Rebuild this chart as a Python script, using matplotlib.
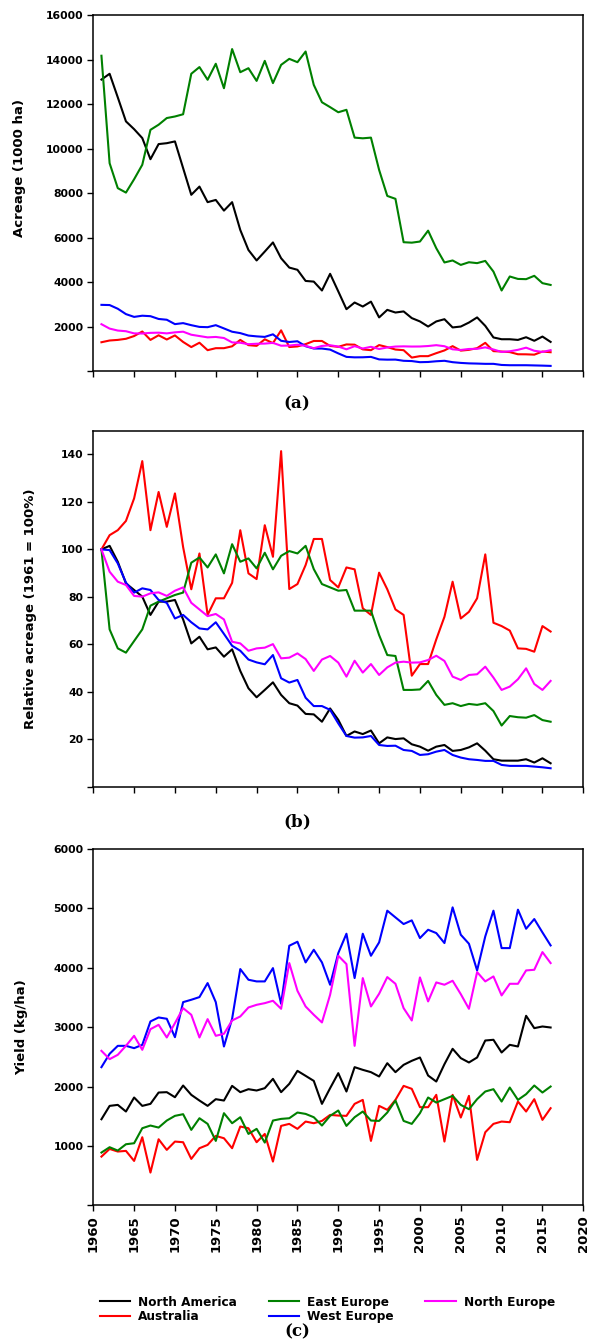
import matplotlib.pyplot as plt

# years 1961-2016
years = list(range(1961, 2017))

# (a) acreage, 1000 ha
na_acre = [13100, 13360, 12300, 11220, 10870, 10470, 9520, 10200, 10240, 10320,
           9120, 7920, 8290, 7590, 7690, 7210, 7590, 6340, 5440, 4970,
           5370, 5780, 5070, 4650, 4550, 4050, 4020, 3620, 4370, 3580,
           2780, 3080, 2900, 3120, 2410, 2750, 2630, 2680, 2380, 2230,
           2000, 2230, 2330, 1960, 2000, 2180, 2410, 2030, 1510, 1430,
           1430, 1400, 1520, 1360, 1550, 1310]
au_acre = [1295, 1373, 1400, 1450, 1573, 1777, 1400, 1608, 1418, 1601,
           1308, 1077, 1273, 938, 1028, 1028, 1112, 1400, 1164, 1133,
           1427, 1255, 1831, 1079, 1106, 1210, 1352, 1352, 1128, 1088,
           1197, 1186, 974, 938, 1168, 1077, 967, 938, 606, 670,
           670, 804, 927, 1119, 918, 954, 1028, 1268, 895, 877,
           852, 755, 752, 737, 877, 847]
ee_acre = [14170, 9340, 8220, 8020, 8620, 9270, 10840, 11070, 11370, 11440,
           11540, 13360, 13660, 13090, 13810, 12710, 14470, 13430, 13610, 13040,
           13940, 12940, 13760, 14030, 13880, 14360, 12860, 12080, 11860, 11630,
           11740, 10490, 10460, 10490, 9040, 7870, 7740, 5790, 5770, 5820,
           6310, 5520, 4880, 4970, 4770, 4890, 4850, 4950, 4470, 3620,
           4250, 4140, 4130, 4280, 3950, 3870]
we_acre = [2975, 2966, 2800, 2559, 2434, 2487, 2466, 2341, 2306, 2109,
           2154, 2062, 1984, 1972, 2062, 1916, 1767, 1705, 1595, 1559,
           1535, 1651, 1360, 1306, 1339, 1116, 1012, 1012, 964, 794,
           637, 616, 619, 637, 524, 512, 515, 461, 449, 399,
           408, 440, 461, 399, 366, 345, 336, 324, 324, 274,
           262, 262, 262, 253, 244, 232]
ne_acre = [2106, 1908, 1820, 1790, 1693, 1687, 1716, 1725, 1693, 1740,
           1769, 1632, 1573, 1514, 1533, 1485, 1287, 1272, 1207, 1228,
           1234, 1266, 1139, 1146, 1184, 1133, 1028, 1129, 1160, 1101,
           977, 1118, 1013, 1089, 992, 1059, 1101, 1110, 1101, 1104,
           1125, 1163, 1116, 977, 948, 992, 998, 1066, 969, 859,
           889, 954, 1051, 912, 859, 939]

# (b) relative acreage, 1961 = 100 %
na_rel = [100, 101.5, 94.8, 85.7, 82.9, 80.1, 72.4, 78, 78, 78.7,
          70.5, 60.4, 63.2, 57.9, 58.7, 54.8, 57.9, 48.8, 41.5, 37.7,
          40.8, 44, 38.7, 35.2, 34.2, 30.7, 30.5, 27.4, 33, 28.2,
          21.4, 23.3, 22.2, 23.7, 18.3, 20.8, 20.1, 20.4, 17.9, 16.9,
          15.2, 16.9, 17.6, 15.1, 15.5, 16.6, 18.3, 15.2, 11.6, 11,
          11, 11, 11.6, 10.2, 12, 9.9]
au_rel = [100, 106, 108.1, 112, 121.5, 137.2, 108.1, 124.2, 109.5, 123.6,
          101, 83.2, 98.3, 72.4, 79.4, 79.4, 85.9, 108.1, 89.9, 87.5,
          110.2, 96.9, 141.4, 83.3, 85.4, 93.4, 104.4, 104.4, 87.1, 84,
          92.4, 91.6, 75.2, 72.4, 90.2, 83.2, 74.7, 72.4, 46.8, 51.7,
          51.7, 62.1, 71.6, 86.4, 70.9, 73.7, 79.4, 97.9, 69.1, 67.7,
          65.8, 58.3, 58.1, 56.9, 67.7, 65.4]
ee_rel = [100, 66.3, 58.3, 56.5, 61.4, 66.3, 76.3, 78, 79.4, 80.8,
          81.8, 94.4, 96.6, 92.4, 97.9, 89.9, 102.2, 94.8, 96.2, 92,
          98.6, 91.6, 97.3, 99.3, 98.3, 101.5, 91.7, 85.4, 84, 82.6,
          82.9, 74.2, 74.2, 74.2, 63.9, 55.5, 55.1, 40.8, 40.8, 41,
          44.6, 38.7, 34.5, 35.2, 34, 34.9, 34.5, 35.2, 31.9, 25.8,
          29.8, 29.3, 29.1, 30.2, 28.1, 27.4]
we_rel = [100, 99.7, 94.1, 86, 81.8, 83.6, 82.9, 78.7, 77.5, 70.9,
          72.4, 69.3, 66.7, 66.3, 69.3, 64.4, 59.4, 57.3, 53.6, 52.4,
          51.6, 55.5, 45.7, 43.9, 45, 37.5, 34, 34, 32.4, 26.7,
          21.4, 20.7, 20.8, 21.4, 17.6, 17.2, 17.3, 15.5, 15.1, 13.4,
          13.7, 14.8, 15.5, 13.4, 12.3, 11.6, 11.3, 10.9, 10.9, 9.2,
          8.8, 8.8, 8.8, 8.5, 8.2, 7.8]
ne_rel = [100, 90.6, 86.4, 85, 80.4, 80.1, 81.5, 81.9, 80.4, 82.6,
          84, 77.5, 74.7, 71.9, 72.8, 70.5, 61.1, 60.4, 57.3, 58.3,
          58.6, 60.1, 54.1, 54.4, 56.2, 53.8, 48.8, 53.6, 55.1, 52.3,
          46.4, 53.1, 48.1, 51.7, 47.1, 50.3, 52.3, 52.7, 52.3, 52.4,
          53.4, 55.2, 53, 46.4, 45, 47.1, 47.4, 50.6, 46, 40.8,
          42.2, 45.3, 49.9, 43.3, 40.8, 44.6]

# (c) yield, kg/ha
na_yield = [1449, 1674, 1691, 1579, 1815, 1674, 1708, 1899, 1905, 1820,
            2017, 1860, 1764, 1674, 1787, 1764, 2011, 1905, 1955, 1933,
            1972, 2129, 1905, 2045, 2264, 2180, 2095, 1708, 1972, 2225,
            1916, 2326, 2281, 2242, 2169, 2393, 2242, 2365, 2433, 2489,
            2185, 2084, 2376, 2635, 2478, 2405, 2489, 2775, 2787, 2573,
            2702, 2674, 3191, 2983, 3011, 2994]
au_yield = [820, 949, 905, 916, 747, 1146, 551, 1112, 933, 1073,
            1062, 781, 961, 1017, 1169, 1129, 961, 1326, 1298, 1062,
            1202, 736, 1337, 1371, 1287, 1410, 1382, 1421, 1522, 1511,
            1506, 1708, 1775, 1084, 1674, 1607, 1775, 2011, 1961, 1652,
            1652, 1860, 1073, 1860, 1478, 1843, 764, 1230, 1371, 1410,
            1399, 1747, 1579, 1787, 1438, 1635]
ee_yield = [888, 978, 921, 1028, 1045, 1298, 1343, 1309, 1427, 1506,
            1534, 1270, 1466, 1371, 1084, 1551, 1382, 1483, 1202, 1287,
            1056, 1427, 1455, 1466, 1562, 1539, 1483, 1343, 1506, 1596,
            1337, 1483, 1579, 1427, 1421, 1562, 1764, 1421, 1371, 1551,
            1815, 1730, 1787, 1843, 1691, 1618, 1787, 1916, 1955, 1747,
            1983, 1775, 1871, 2017, 1899, 2000]
we_yield = [2326, 2551, 2685, 2685, 2646, 2702, 3096, 3163, 3141, 2831,
            3421, 3461, 3506, 3742, 3421, 2674, 3141, 3978, 3798, 3770,
            3770, 3994, 3393, 4371, 4438, 4090, 4303, 4090, 3714, 4247,
            4573, 3826, 4573, 4202, 4427, 4961, 4848, 4736, 4798, 4500,
            4640, 4584, 4416, 5017, 4556, 4404, 3955, 4528, 4961, 4331,
            4331, 4978, 4657, 4820, 4595, 4376]
ne_yield = [2601, 2461, 2534, 2685, 2854, 2618, 2966, 3039, 2826, 3067,
            3320, 3208, 2826, 3135, 2854, 2888, 3112, 3180, 3331, 3376,
            3404, 3444, 3309, 4079, 3612, 3348, 3208, 3079, 3545, 4202,
            4062, 2685, 3826, 3348, 3562, 3843, 3730, 3320, 3112, 3837,
            3433, 3753, 3714, 3781, 3556, 3309, 3927, 3770, 3854, 3534,
            3730, 3730, 3955, 3966, 4264, 4079]

names = ['North America', 'Australia', 'East Europe', 'West Europe', 'North Europe']
colors = ['black', '#ff0000', '#008000', '#0000ff', '#ff00ff']

plt.rcParams['font.family'] = 'DejaVu Sans'
plt.rcParams['font.weight'] = 'bold'
plt.rcParams['mathtext.fontset'] = 'dejavuserif'

dpi = 100
fig = plt.figure(figsize=(590 / dpi, 1341 / dpi), dpi=dpi)

left = 0.1581
width = 0.8305
ax_a = fig.add_axes([left, 0.7233, width, 0.2655])
ax_b = fig.add_axes([left, 0.4133, width, 0.2655])
ax_c = fig.add_axes([left, 0.1012, width, 0.2657])

panels = [
    (ax_a, [na_acre, au_acre, ee_acre, we_acre, ne_acre], 16000, 2000,
     'Acreage (1000 ha)', 0.569, -0.138),
    (ax_b, [na_rel, au_rel, ee_rel, we_rel, ne_rel], 150, 20,
     'Relative acreage (1961 = 100%)', 0.5, -0.115),
    (ax_c, [na_yield, au_yield, ee_yield, we_yield, ne_yield], 6000, 1000,
     'Yield (kg/ha)', 0.5, -0.132),
]

for ax, series, ymax, ystep, ylabel, ly, lx in panels:
    for vals, c, n in zip(series, colors, names):
        ax.plot(years, vals, color=c, lw=1.5, label=n)
    ax.set_xlim(1960, 2020)
    ax.set_ylim(0, ymax)
    ticks = list(range(0, ymax + 1, ystep))
    if ymax == 150:
        ticks = list(range(0, 141, 20))
    ax.set_yticks(ticks)
    ax.set_yticklabels([''] + [str(t) for t in ticks[1:]])
    ax.set_xticks(range(1960, 2021, 5))
    ax.tick_params(direction='out', length=4, width=1, labelsize=7.8, pad=3)
    for s in ax.spines.values():
        s.set_linewidth(1.1)
    ax.set_ylabel(ylabel, fontsize=9.5, fontweight='bold')
    ax.yaxis.set_label_coords(lx, ly)

ax_a.set_xticklabels([])
ax_b.set_xticklabels([])
ax_c.set_xticklabels([str(y) for y in range(1960, 2021, 5)], rotation=90, fontsize=9.5)

fig.text(0.503, 0.6995, r'$(\mathbf{a})$', ha='center', va='center', fontsize=12)
fig.text(0.503, 0.387, r'$(\mathbf{b})$', ha='center', va='center', fontsize=12)
fig.text(0.503, 0.0075, r'$(\mathbf{c})$', ha='center', va='center', fontsize=12)

handles, labels = ax_c.get_legend_handles_labels()
fig.legend(handles, labels, ncol=3, loc='center', bbox_to_anchor=(0.555, 0.0235),
           frameon=False, fontsize=8.7, handlelength=2.5, handletextpad=0.7,
           columnspacing=2.6, labelspacing=0.15)

fig.savefig('out.png', dpi=dpi)
